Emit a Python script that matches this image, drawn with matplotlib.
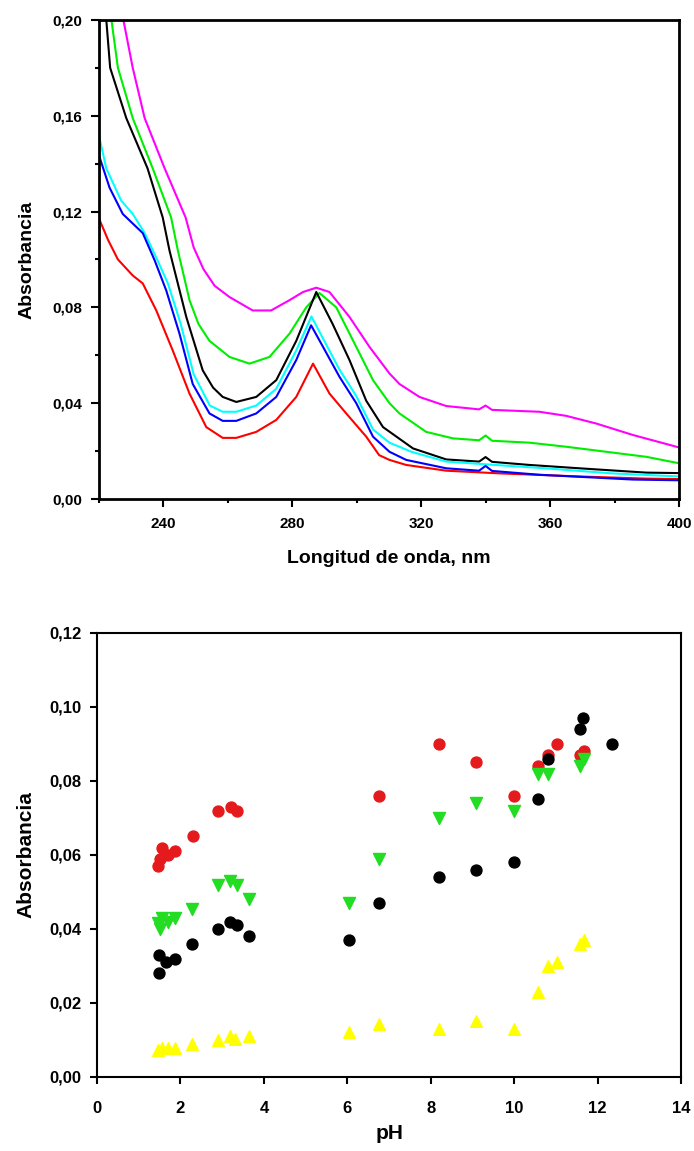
import numpy as np
import matplotlib
matplotlib.use('Agg')
import matplotlib.pyplot as plt
from matplotlib.ticker import MultipleLocator, FuncFormatter

plt.rcParams['font.family'] = ['Liberation Sans', 'DejaVu Sans']
plt.rcParams['font.weight'] = 'bold'

# ---- top panel: UV spectra ----
wl_magenta = [220, 224, 227.7, 230.6, 234.3, 240.5, 247, 249.5, 252.5, 256, 260.6, 267.8, 273.5,
              279.2, 283.4, 287.5, 291.6, 297.8, 304, 310.2, 313.3, 319.5, 327.8, 338, 340,
              342, 356.7, 365, 374.3, 385.7, 400]
a_magenta = [0.235, 0.215, 0.200, 0.180, 0.159, 0.138, 0.1175, 0.105, 0.096, 0.089, 0.0843, 0.0787, 0.0787,
             0.083, 0.0864, 0.0882, 0.0864, 0.076, 0.0635, 0.0524, 0.048, 0.0426, 0.0388, 0.0374, 0.0390,
             0.0372, 0.0364, 0.0347, 0.0315, 0.0267, 0.0215]

wl_green = [220, 224, 226, 230.6, 236.8, 242.5, 244.6, 248.2, 251, 254.4, 260.6, 266.8, 273, 279.2,
            284.4, 288.5, 293.7, 299.9, 305.1, 310.2, 313.3, 321.6, 329.9, 338, 340, 342, 353.6,
            365, 377.4, 389.8, 400]
a_green = [0.215, 0.200, 0.180, 0.159, 0.138, 0.1175, 0.1037, 0.083, 0.073, 0.066, 0.0593, 0.0565, 0.0593, 0.069,
           0.080, 0.086, 0.080, 0.0635, 0.0496, 0.040, 0.0357, 0.028, 0.0253, 0.0245, 0.0265, 0.0243, 0.0235,
           0.0218, 0.0197, 0.0176, 0.0149]

wl_black = [220, 222.4, 223.6, 228.6, 235.2, 239.9, 242, 247.2, 252.3, 255.5, 258.5, 262.7, 268.9, 275.1,
            281.3, 287.5, 292.6, 297.8, 303, 308.2, 317.5, 327.8, 338, 340, 342, 353.6, 369.1,
            389.8, 400]
a_black = [0.212, 0.200, 0.180, 0.159, 0.138, 0.1175, 0.1037, 0.076, 0.0537, 0.0465, 0.0426, 0.0405, 0.0426,
           0.0496, 0.066, 0.0864, 0.073, 0.058, 0.041, 0.030, 0.0211, 0.0165, 0.0156, 0.0175, 0.0155, 0.0142,
           0.0128, 0.011, 0.0108]

wl_cyan = [220, 222.4, 227, 230.6, 234.3, 238.3, 241.5, 245.5, 249.5, 254.5, 258.5, 262.7, 268.9,
           275.1, 281.3, 286, 289.6, 294.7, 299.9, 305.1, 310.2, 317, 327.8, 343, 358.5, 379, 400]
a_cyan = [0.1525, 0.138, 0.1246, 0.119, 0.111, 0.0996, 0.090, 0.073, 0.052, 0.039, 0.0364, 0.0364, 0.039,
          0.046, 0.062, 0.0762, 0.067, 0.054, 0.043, 0.029, 0.0235, 0.0197, 0.0156, 0.0142, 0.0128, 0.0107,
          0.0094]

wl_blue = [220, 223.4, 227.5, 230.6, 233.7, 237.4, 241, 245.1, 249.2, 254.4, 258.5, 262.7, 268.9,
           275.1, 281.3, 285.9, 289.6, 294.7, 299.9, 305.1, 310.2, 315.4, 327.8, 338, 340, 342,
           356.7, 385.7, 400]
a_blue = [0.144, 0.130, 0.119, 0.115, 0.111, 0.0996, 0.087, 0.069, 0.048, 0.0357, 0.0326, 0.0326, 0.0357,
          0.0426, 0.058, 0.0725, 0.0635, 0.051, 0.040, 0.026, 0.0197, 0.0163, 0.0128, 0.0118, 0.0138, 0.0117,
          0.0101, 0.0081, 0.0078]

wl_red = [220, 223, 226, 230.6, 233.7, 237.9, 243, 248.2, 253.4, 258.5, 262.7, 268.9,
          275.1, 281.3, 286.5, 291.6, 296.8, 303, 307, 310.2, 315.4, 327.8, 344, 369, 389.8, 400]
a_red = [0.1175, 0.108, 0.100, 0.0933, 0.090, 0.0787, 0.062, 0.044, 0.030, 0.0255, 0.0255, 0.028,
         0.033, 0.0426, 0.0565, 0.044, 0.0357, 0.026, 0.0183, 0.0163, 0.0142, 0.0118, 0.0107, 0.0094, 0.0085,
         0.0083]

# ---- bottom panel: absorbance vs pH ----
ph_red = [1.47, 1.51, 1.55, 1.69, 1.87, 2.29, 2.91, 3.20, 3.36, 6.76, 8.21, 9.09, 10.0, 10.56,
          10.82, 11.02, 11.58, 11.68]
abs_red = [0.057, 0.059, 0.062, 0.060, 0.061, 0.065, 0.072, 0.073, 0.072, 0.076, 0.090, 0.085, 0.076,
           0.084, 0.087, 0.090, 0.087, 0.088]

ph_black = [1.49, 1.49, 1.65, 1.87, 2.27, 2.91, 3.19, 3.36, 3.65, 6.05, 6.76, 8.21, 9.09, 10.0,
            10.56, 10.82, 11.58, 11.64, 12.34]
abs_black = [0.033, 0.028, 0.031, 0.032, 0.036, 0.040, 0.042, 0.041, 0.038, 0.037, 0.047, 0.054, 0.056,
             0.058, 0.075, 0.086, 0.094, 0.097, 0.090]

ph_green = [1.47, 1.51, 1.55, 1.69, 1.87, 2.27, 2.91, 3.19, 3.36, 3.65, 6.05, 6.76, 8.21, 9.09,
            10.0, 10.56, 10.82, 11.58, 11.68]
abs_green = [0.0415, 0.040, 0.043, 0.042, 0.043, 0.0455, 0.052, 0.053, 0.052, 0.048, 0.047, 0.059, 0.070,
             0.074, 0.072, 0.082, 0.082, 0.084, 0.086]

ph_yellow = [1.47, 1.55, 1.69, 1.87, 2.27, 2.91, 3.19, 3.30, 3.65, 6.05, 6.76, 8.21, 9.09, 10.0,
             10.56, 10.82, 11.02, 11.58, 11.68]
abs_yellow = [0.0073, 0.0078, 0.0078, 0.0078, 0.0088, 0.010, 0.0112, 0.0103, 0.0112, 0.0122, 0.0143,
              0.0129, 0.015, 0.0129, 0.023, 0.030, 0.031, 0.036, 0.037]


def comma_fmt(v, pos):
    return f'{v:.2f}'.replace('.', ',')


fig = plt.figure(figsize=(6.94, 11.51), dpi=100)

# top panel
ax1 = fig.add_axes([0.142, 0.5665, 0.8365, 0.4162])
spectra = [
    (wl_magenta, a_magenta, '#ff00ff'),
    (wl_green, a_green, '#00ee00'),
    (wl_black, a_black, 'black'),
    (wl_cyan, a_cyan, '#00ffff'),
    (wl_red, a_red, '#ff0000'),
    (wl_blue, a_blue, '#0000ff'),
]
for wl, a, c in spectra:
    ax1.plot(wl, a, color=c, lw=1.5)

ax1.set_xlim(220, 400)
ax1.set_ylim(0, 0.20)
ax1.xaxis.set_minor_locator(MultipleLocator(20))
ax1.yaxis.set_major_locator(MultipleLocator(0.04))
ax1.yaxis.set_minor_locator(MultipleLocator(0.02))
ax1.set_xticks([240, 280, 320, 360, 400])
ax1.yaxis.set_major_formatter(FuncFormatter(comma_fmt))
ax1.tick_params(which='major', direction='out', length=6, width=1.5, labelsize=11, pad=6)
ax1.tick_params(which='minor', direction='out', length=3, width=1.5)
ax1.tick_params(axis='x', which='major', pad=7)
for s in ax1.spines.values():
    s.set_linewidth(2)
ax1.set_xlabel('Longitud de onda, nm', fontsize=14, fontweight='bold', labelpad=14)
ax1.set_ylabel('Absorbancia', fontsize=14, fontweight='bold', labelpad=12)

# bottom panel
ax2 = fig.add_axes([0.1398, 0.0643, 0.8415, 0.3858])
ax2.scatter(ph_red, abs_red, s=62, marker='o', color='#e41a1c', zorder=3)
ax2.scatter(ph_black, abs_black, s=62, marker='o', color='black', zorder=3)
ax2.scatter(ph_green, abs_green, s=75, marker='v', color='#22dd22', zorder=3)
ax2.scatter(ph_yellow, abs_yellow, s=70, marker='^', color='#ffff00', zorder=3)

ax2.set_xlim(0, 14)
ax2.set_ylim(0, 0.12)
ax2.xaxis.set_major_locator(MultipleLocator(2))
ax2.yaxis.set_major_locator(MultipleLocator(0.02))
ax2.yaxis.set_major_formatter(FuncFormatter(comma_fmt))
ax2.tick_params(direction='out', length=5, width=1.5, labelsize=12, pad=6)
ax2.tick_params(axis='x', pad=12)
for s in ax2.spines.values():
    s.set_linewidth(1.5)
ax2.set_xlabel('pH', fontsize=15, fontweight='bold', labelpad=6)
ax2.set_ylabel('Absorbancia', fontsize=15, fontweight='bold', labelpad=10)

fig.savefig('out.png', dpi=100)
